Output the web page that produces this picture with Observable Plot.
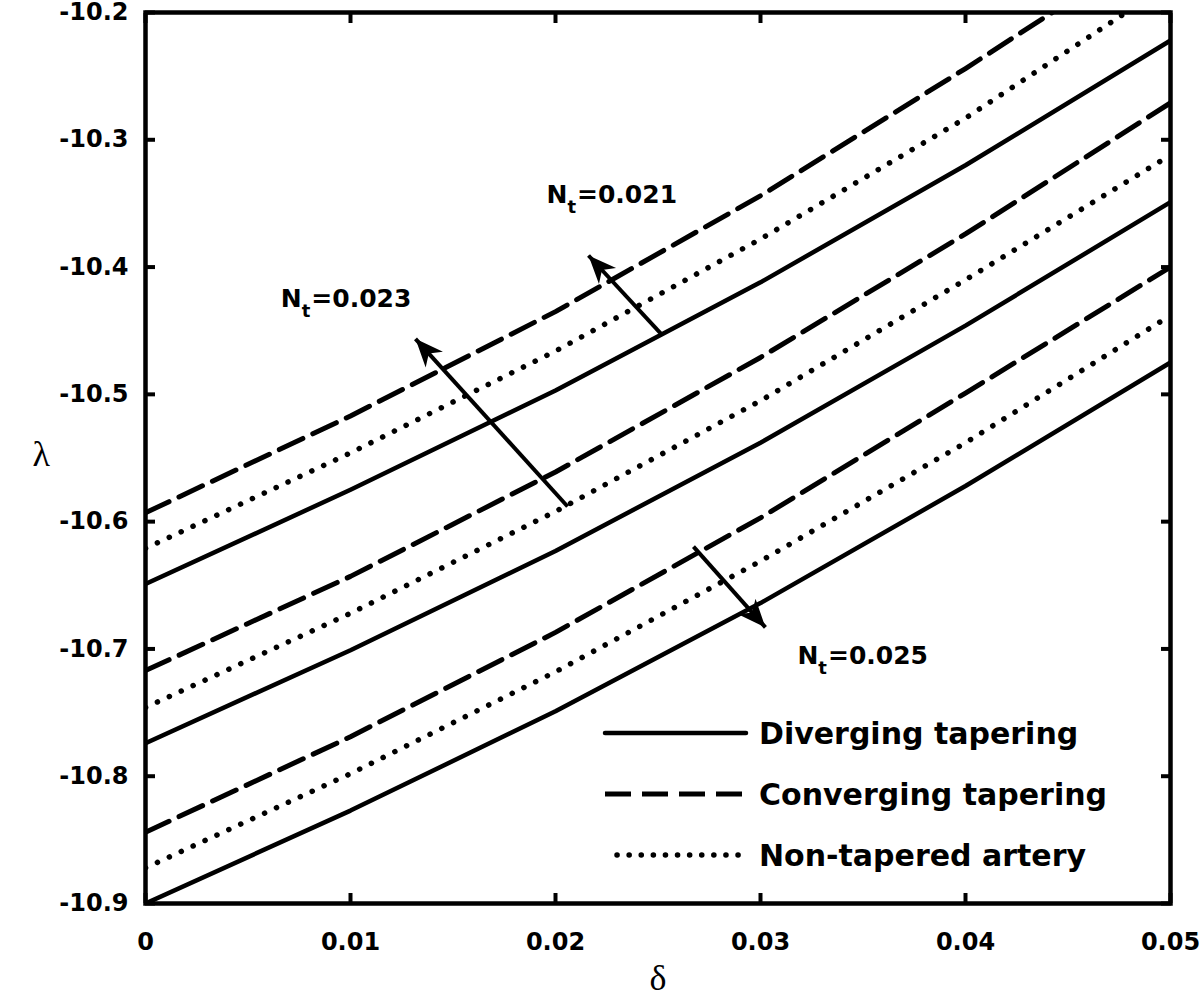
<!DOCTYPE html>
<html>
<head>
<meta charset="utf-8">
<script src="https://cdn.jsdelivr.net/npm/d3@7"></script>
<script src="https://cdn.jsdelivr.net/npm/@observablehq/plot@0.6"></script>
<style>
  html, body { margin: 0; padding: 0; background: #fff; }
  #wrap { position: relative; width: 1200px; height: 1006px; }
  #legend { position: absolute; left: 0; top: 0; pointer-events: none; }
</style>
</head>
<body>
<div id="wrap"><div id="chart"></div></div>
<script>
// ---- data ----
const delta = [0, 0.01, 0.02, 0.03, 0.04, 0.05];

// N_t = 0.021 group (top)
const diverging021  = [-10.649, -10.575, -10.497, -10.412, -10.320, -10.222];
const converging021 = [-10.593, -10.517, -10.435, -10.344, -10.244, -10.140];
const nonTapered021 = [-10.621, -10.546, -10.466, -10.378, -10.283, -10.177];
// N_t = 0.023 group (middle)
const diverging023  = [-10.774, -10.701, -10.623, -10.538, -10.446, -10.349];
const converging023 = [-10.717, -10.643, -10.561, -10.471, -10.374, -10.271];
const nonTapered023 = [-10.746, -10.672, -10.592, -10.505, -10.410, -10.312];
// N_t = 0.025 group (bottom)
const diverging025  = [-10.900, -10.827, -10.749, -10.664, -10.572, -10.475];
const converging025 = [-10.844, -10.769, -10.687, -10.597, -10.499, -10.400];
const nonTapered025 = [-10.872, -10.798, -10.718, -10.631, -10.538, -10.438];

const xTicks = [0, 0.01, 0.02, 0.03, 0.04, 0.05];
const yTicks = [-10.9, -10.8, -10.7, -10.6, -10.5, -10.4, -10.3, -10.2];

const legendLabels = ["Diverging tapering", "Converging tapering", "Non-tapered artery"];

// annotation arrows (tail -> head) and labels, in data units
const arrows = [
  {x1: 0.02522, y1: -10.4537, x2: 0.02161, y2: -10.3909},
  {x1: 0.02059, y1: -10.5881, x2: 0.01317, y2: -10.4564},
  {x1: 0.02673, y1: -10.6196, x2: 0.03024, y2: -10.6831}
];
const labels = [
  {text: "N_t=0.021", x: 0.01956, y: -10.3430},
  {text: "N_t=0.023", x: 0.00660, y: -10.4247},
  {text: "N_t=0.025", x: 0.03180, y: -10.7059}
];

// ---- build long tables ----
function rows(group, values) {
  return delta.map((d, i) => ({delta: d, lambda: values[i], group}));
}
const solidRows = [...rows("0.021", diverging021), ...rows("0.023", diverging023), ...rows("0.025", diverging025)];
const dashedRows = [...rows("0.021", converging021), ...rows("0.023", converging023), ...rows("0.025", converging025)];
const dottedRows = [...rows("0.021", nonTapered021), ...rows("0.023", nonTapered023), ...rows("0.025", nonTapered025)];

const NS = "http://www.w3.org/2000/svg";
function headMarker(color, context) {
  const doc = (context && context.document) || document;
  const m = doc.createElementNS(NS, "marker");
  m.setAttribute("viewBox", "-12 -6 12 12");
  m.setAttribute("markerWidth", 28);
  m.setAttribute("markerHeight", 28);
  m.setAttribute("markerUnits", "userSpaceOnUse");
  m.setAttribute("orient", "auto");
  m.setAttribute("refX", 0);
  m.setAttribute("refY", 0);
  const p = doc.createElementNS(NS, "path");
  p.setAttribute("d", "M0,0L-12,-5L-8.5,0L-12,5Z");
  p.setAttribute("fill", color);
  p.setAttribute("stroke", "none");
  m.appendChild(p);
  return m;
}

const fmtX = d => d === 0 ? "0" : d.toFixed(2);
const fmtY = d => d.toFixed(1);

function baseMarks() {
  return [
    Plot.line(solidRows, {x: "delta", y: "lambda", z: "group", stroke: "black", strokeWidth: 4.5, strokeLinejoin: "round", clip: true}),
    Plot.line(dashedRows, {x: "delta", y: "lambda", z: "group", stroke: "black", strokeWidth: 5, strokeDasharray: "26,11", strokeLinejoin: "round", clip: true}),
    Plot.line(dottedRows, {x: "delta", y: "lambda", z: "group", stroke: "black", strokeWidth: 5.5, strokeDasharray: "0.1,13", strokeLinecap: "round", clip: true}),
    Plot.axisX(xTicks, {anchor: "bottom", tickSize: -10, tickPadding: 39, strokeWidth: 4, tickFormat: fmtX, label: null, fontSize: 24}),
    Plot.axisX(xTicks, {anchor: "top", tickSize: -10, strokeWidth: 4, tickFormat: () => "", label: null}),
    Plot.axisY(yTicks, {anchor: "left", tickSize: -10, tickPadding: 27, strokeWidth: 4, tickFormat: fmtY, label: null, fontSize: 24}),
    Plot.axisY(yTicks, {anchor: "right", tickSize: -10, strokeWidth: 4, tickFormat: () => "", label: null}),
    Plot.frame({stroke: "black", strokeWidth: 4.5}),
    Plot.text(["δ"], {frameAnchor: "bottom", dy: 86, fontFamily: "Liberation Serif", fontWeight: "normal", fontSize: 36}),
    Plot.text(["λ"], {frameAnchor: "left", dx: -113, dy: -4, fontFamily: "Liberation Serif", fontWeight: "normal", fontSize: 36}),
    Plot.text(labels, {x: "x", y: "y", text: "text", textAnchor: "start", lineAnchor: "middle", fontSize: 25, fontWeight: "bold"})
  ];
}

function makePlot(arrowMark) {
  return Plot.plot({
    width: 1200,
    height: 1006,
    marginTop: 12,
    marginBottom: 103,
    marginLeft: 145,
    marginRight: 30,
    x: {domain: [0, 0.05], label: null},
    y: {domain: [-10.9, -10.2], label: null},
    style: {fontFamily: "DejaVu Sans", fontWeight: "bold", fontSize: "24px", color: "black", background: "white", overflow: "visible"},
    marks: [...baseMarks(), arrowMark()]
  });
}

let chart;
try {
  chart = makePlot(() => Plot.link(arrows, {x1: "x1", y1: "y1", x2: "x2", y2: "y2", stroke: "black", strokeWidth: 4, markerEnd: headMarker}));
} catch (e) {
  chart = makePlot(() => Plot.arrow(arrows, {x1: "x1", y1: "y1", x2: "x2", y2: "y2", stroke: "black", strokeWidth: 4, headLength: 24, headAngle: 50}));
}

// subscript "t" in N_t labels
chart.querySelectorAll("text").forEach(t => {
  const s = t.textContent;
  if (s.startsWith("N_t")) {
    const rest = s.slice(3);
    while (t.firstChild) t.removeChild(t.firstChild);
    const a = document.createElementNS(NS, "tspan"); a.textContent = "N";
    const b = document.createElementNS(NS, "tspan"); b.textContent = "t";
    b.setAttribute("dy", "10"); b.setAttribute("font-size", "18");
    const c = document.createElementNS(NS, "tspan"); c.textContent = rest;
    c.setAttribute("dy", "-10"); c.setAttribute("dx", "1");
    t.appendChild(a); t.appendChild(b); t.appendChild(c);
  }
});

document.getElementById("chart").appendChild(chart);

// ---- legend (inside the plot area, lower right) ----
const lg = d3.select("#wrap").append("svg").attr("id", "legend").attr("width", 1200).attr("height", 1006);
const rowsY = [733, 794, 855];
const styles = [
  {dash: null, width: 4.5, cap: "round"},
  {dash: "26,11", width: 5, cap: "butt"},
  {dash: "0.1,12", width: 5.5, cap: "round"}
];
legendLabels.forEach((lab, i) => {
  const g = lg.append("g").attr("transform", `translate(0,${rowsY[i]})`);
  g.append("line").attr("x1", i === 2 ? 617 : 605).attr("x2", 746).attr("y1", 0).attr("y2", 0)
    .attr("stroke", "black").attr("stroke-width", styles[i].width)
    .attr("stroke-linecap", styles[i].cap)
    .attr("stroke-dasharray", styles[i].dash);
  g.append("text").attr("x", 759).attr("y", 0).attr("dy", "0.36em")
    .attr("font-family", "DejaVu Sans").attr("font-weight", "bold").attr("font-size", 30)
    .text(lab);
});
</script>
</body>
</html>
